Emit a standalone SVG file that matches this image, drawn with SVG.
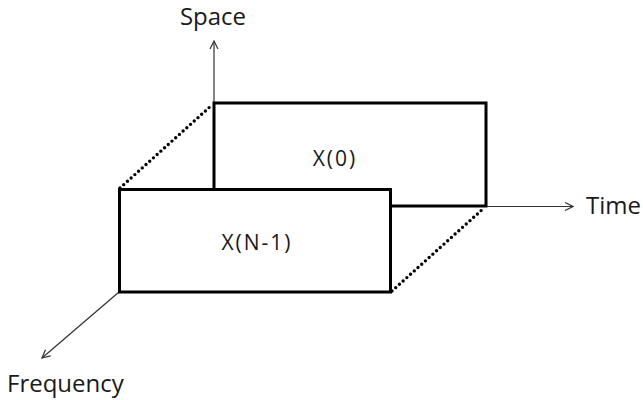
<svg xmlns="http://www.w3.org/2000/svg" width="643" height="400" viewBox="0 0 643 400">
<style>
.box{fill:#fff;stroke:#000;stroke-width:3}
.dot{fill:none;stroke:#000;stroke-width:3.4;stroke-linecap:round;stroke-dasharray:0 5}
.axis{fill:none;stroke:#333;stroke-width:1.2}
.lbl{font-family:"Open Sans","DejaVu Sans",sans-serif;font-size:24px;fill:#1a1a1a}
.in{font-family:"Open Sans","DejaVu Sans",sans-serif;font-size:21px;fill:#1a1a1a;letter-spacing:2px}
</style>
<defs>
<marker id="chev" viewBox="0 0 10 10" refX="9" refY="5" markerWidth="10" markerHeight="10" markerUnits="userSpaceOnUse" orient="auto">
<path d="M1,1 L9,5 L1,9" fill="none" stroke="#333" stroke-width="1.2"/>
</marker>
</defs>
<rect width="643" height="400" fill="#fff"/>
<g id="connectors">
<line class="axis" x1="214" y1="103" x2="214" y2="41" marker-end="url(#chev)"/>
<line class="axis" x1="486" y1="206.5" x2="573" y2="206.5" marker-end="url(#chev)"/>
<line class="axis" x1="119" y1="292" x2="42" y2="358" marker-end="url(#chev)"/>
<line class="dot" x1="120" y1="188" x2="212" y2="105"/>
<line class="dot" x1="392" y1="188" x2="484" y2="105"/>
<line class="dot" x1="392" y1="291" x2="484" y2="208"/>
</g>
<g id="x0">
<rect class="box" x="214" y="103" width="272" height="103"/>
<text class="in" x="335" y="166" text-anchor="middle">X(0)</text>
</g>
<g id="xn1">
<rect class="box" x="119.5" y="189.5" width="271" height="102.5"/>
<text class="in" x="257" y="250" text-anchor="middle">X(N-1)</text>
</g>
<g id="space"><text class="lbl" x="213" y="25" text-anchor="middle">Space</text></g>
<g id="time"><text class="lbl" x="586" y="214">Time</text></g>
<g id="frequency"><text class="lbl" x="7" y="392">Frequency</text></g>
</svg>
